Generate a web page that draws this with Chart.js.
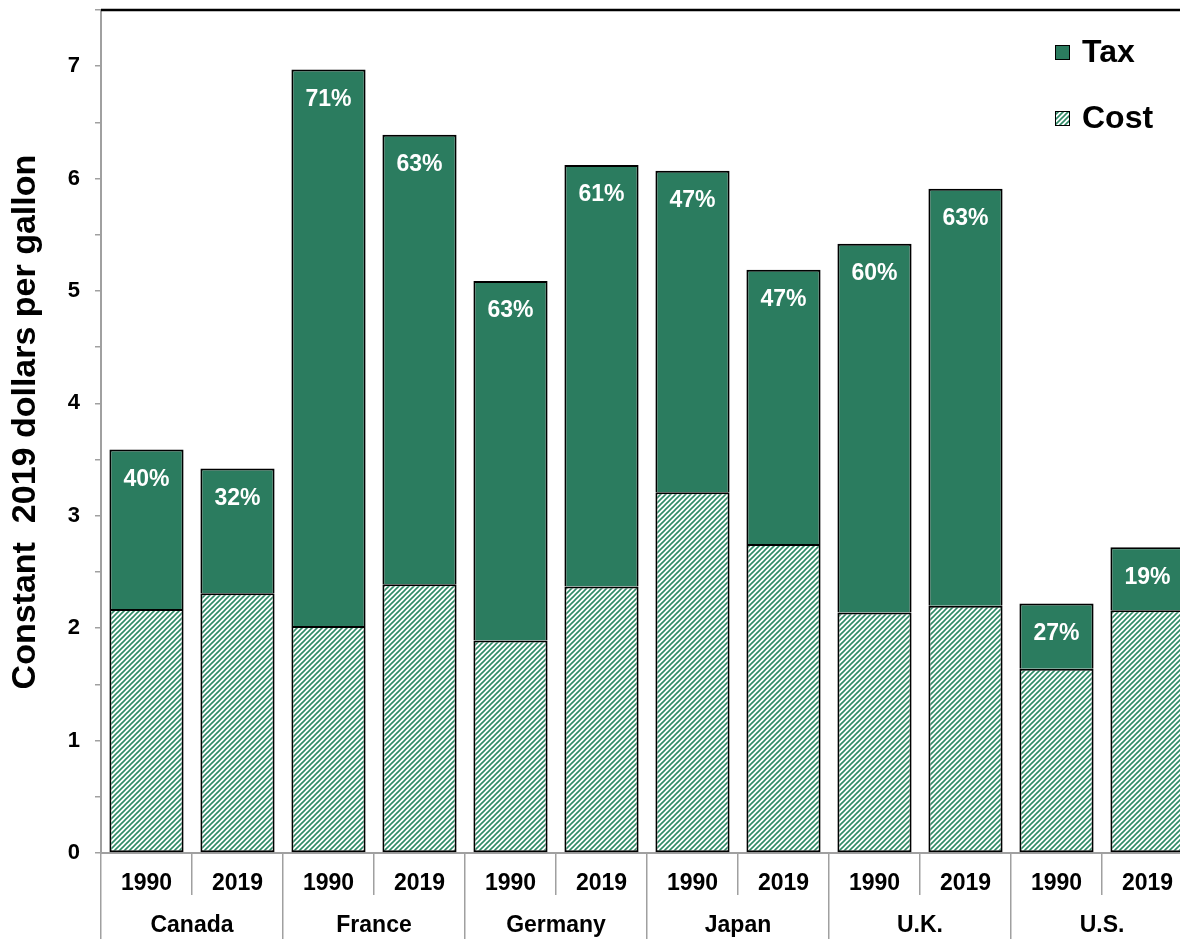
<!DOCTYPE html>
<html>
<head>
<meta charset="utf-8">
<script src="https://cdn.jsdelivr.net/npm/chart.js@4.4.1/dist/chart.umd.min.js"></script>
<style>
  html, body { margin: 0; padding: 0; background: #fff; overflow: hidden; }
  #wrap { width: 1180px; height: 939px; overflow: hidden; }
  canvas { display: block; }
</style>
</head>
<body>
<div id="wrap"><canvas id="fuelChart" width="1200" height="939"></canvas></div>
<script>
// Gasoline price: tax vs cost, constant 2019 dollars per gallon
const countries = ['Canada', 'France', 'Germany', 'Japan', 'U.K.', 'U.S.'];
const years = ['1990', '2019', '1990', '2019', '1990', '2019', '1990', '2019', '1990', '2019', '1990', '2019'];
const costValues = [2.17, 2.31, 2.02, 2.39, 1.89, 2.37, 3.21, 2.75, 2.14, 2.20, 1.64, 2.16];
const taxValues = [1.42, 1.11, 4.95, 4.00, 3.20, 3.75, 2.86, 2.44, 3.28, 3.71, 0.58, 0.56];
const taxShares = [40, 32, 71, 63, 63, 61, 47, 47, 60, 63, 27, 19];

const FONT = "'Liberation Sans', Arial, sans-serif";
const TAX_GREEN = '#2b7c5f';
const AXIS_GREY = '#a0a0a0';

// diagonal hatch used for the cost segment
function makeHatch() {
    const c = document.createElement('canvas');
    c.width = 5;
    c.height = 5;
    const g = c.getContext('2d');
    g.fillStyle = '#ffffff';
    g.fillRect(0, 0, 5, 5);
    g.strokeStyle = '#2f8a66';
    g.lineWidth = 1.6;
    g.beginPath();
    g.moveTo(0, 5); g.lineTo(5, 0);
    g.moveTo(-1, 1); g.lineTo(1, -1);
    g.moveTo(4, 6); g.lineTo(6, 4);
    g.stroke();
    return g.createPattern(c, 'repeat');
}
const hatch = makeHatch();

// percent labels, top border and legend
const extrasPlugin = {
    id: 'extras',
    afterDatasetsDraw(chart) {
        const ctx = chart.ctx;
        const area = chart.chartArea;
        const taxMeta = chart.getDatasetMeta(1);

        ctx.save();
        ctx.fillStyle = '#ffffff';
        ctx.font = 'bold 23px ' + FONT;
        ctx.textAlign = 'center';
        ctx.textBaseline = 'middle';
        taxMeta.data.forEach((bar, i) => {
            ctx.fillText(taxShares[i] + '%', bar.x, bar.y + 30);
        });

        // top border
        ctx.strokeStyle = '#000';
        ctx.lineWidth = 2.5;
        ctx.beginPath();
        ctx.moveTo(area.left, area.top);
        ctx.lineTo(area.right + 10, area.top);
        ctx.stroke();

        // legend
        const lx = area.right - 138;
        const items = [
            { label: 'Tax', fill: TAX_GREEN, y: 52 },
            { label: 'Cost', fill: hatch, y: 118 }
        ];
        ctx.font = 'bold 32px ' + FONT;
        ctx.textAlign = 'left';
        items.forEach(it => {
            ctx.fillStyle = it.fill;
            ctx.fillRect(lx, it.y - 7, 15, 15);
            ctx.strokeStyle = '#000';
            ctx.lineWidth = 1;
            ctx.strokeRect(lx + 0.5, it.y - 6.5, 14, 14);
            ctx.fillStyle = '#000';
            ctx.fillText(it.label, lx + 27, it.y + 1);
        });
        ctx.restore();
    }
};

const chartConfig = {
    type: 'bar',
    data: {
        labels: years,
        datasets: [
            {
                label: 'Cost',
                data: costValues,
                backgroundColor: hatch,
                borderColor: '#000',
                borderWidth: 2,
                borderSkipped: false,
                barPercentage: 0.815,
                categoryPercentage: 1.0
            },
            {
                label: 'Tax',
                data: taxValues,
                backgroundColor: TAX_GREEN,
                borderColor: '#000',
                borderWidth: 2,
                borderSkipped: 'start',
                barPercentage: 0.815,
                categoryPercentage: 1.0
            }
        ]
    },
    options: {
        responsive: false,
        animation: false,
        devicePixelRatio: 1,
        layout: { padding: { left: 0, right: 7, top: 10, bottom: 0 } },
        plugins: {
            legend: { display: false },
            tooltip: { enabled: false }
        },
        scales: {
            x: {
                stacked: true,
                position: 'bottom',
                offset: true,
                border: { display: true, color: AXIS_GREY, width: 2 },
                grid: {
                    offset: true,
                    drawOnChartArea: false,
                    drawTicks: true,
                    tickLength: 42,
                    color: AXIS_GREY,
                    lineWidth: 1.5
                },
                ticks: {
                    color: '#000',
                    font: { family: FONT, size: 23, weight: 'bold' },
                    padding: -25,
                    maxRotation: 0,
                    autoSkip: false
                },
                afterFit: (scale) => { scale.height = 42; }
            },
            country: {
                type: 'category',
                position: 'bottom',
                labels: countries,
                offset: true,
                border: { display: false },
                grid: {
                    offset: true,
                    drawOnChartArea: false,
                    drawTicks: true,
                    tickLength: 44,
                    color: AXIS_GREY,
                    lineWidth: 1.5
                },
                ticks: {
                    color: '#000',
                    font: { family: FONT, size: 23, weight: 'bold' },
                    padding: -27,
                    maxRotation: 0,
                    autoSkip: false
                },
                afterFit: (scale) => { scale.height = 44; }
            },
            y: {
                stacked: true,
                min: 0,
                max: 7.5,
                border: { display: true, color: AXIS_GREY, width: 2 },
                grid: {
                    drawOnChartArea: false,
                    drawTicks: true,
                    tickLength: 6,
                    color: AXIS_GREY,
                    lineWidth: 1.5
                },
                ticks: {
                    stepSize: 0.5,
                    color: '#000',
                    padding: 15,
                    font: { family: FONT, size: 22, weight: 'bold' },
                    callback: (v) => Number.isInteger(v) ? v : ''
                },
                title: {
                    display: true,
                    // leading spaces nudge the rotated title upward as in the original
                    text: '  Constant  2019 dollars per gallon',
                    color: '#000',
                    font: { family: FONT, size: 34, weight: 'bold' },
                    padding: { top: 5, bottom: 0 }
                },
                afterFit: (scale) => {
                    scale.width = 101;
                    scale.paddingTop = 0;
                    scale.paddingBottom = 0;
                }
            }
        }
    },
    plugins: [extrasPlugin]
};

const fuelChart = new Chart(document.getElementById('fuelChart').getContext('2d'), chartConfig);
</script>
</body>
</html>
